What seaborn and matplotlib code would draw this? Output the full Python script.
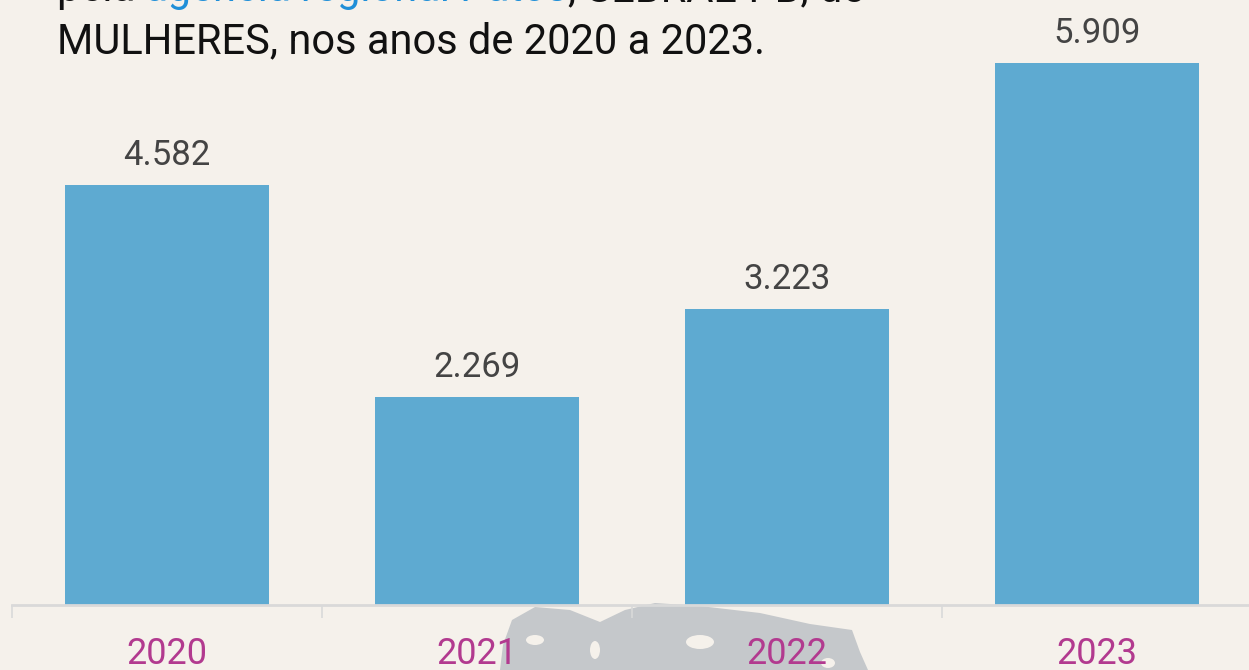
import matplotlib
matplotlib.use("Agg")
import matplotlib.pyplot as plt
import seaborn as sns
import pandas as pd
from matplotlib.patches import Polygon, Ellipse
from matplotlib.ticker import FixedLocator

years = ["2020", "2021", "2022", "2023"]
values = [4582, 2269, 3223, 5909]
value_labels = ["4.582", "2.269", "3.223", "5.909"]
title_line1 = [("pela ", "#111111"), ("agência regional Patos", "#1f8fd8"), (", SEBRAE-PB, de", "#111111")]
title_line2 = "MULHERES, nos anos de 2020 a 2023."

BG = "#f5f1eb"
BAR = "#5eaad1"
GRID = "#d9d9d9"
LABEL = "#444444"
TICK = "#b23a8f"

sns.set_theme(style="white")
FONT = ["Roboto", "DejaVu Sans"]
plt.rcParams["font.family"] = FONT

W, H = 1249, 670
fig = plt.figure(figsize=(W / 100, H / 100), dpi=100, facecolor=BG)

# axes: x from 12px to 1252px, baseline at y=605px
left = 12 / W
width = 1240 / W
bottom = (H - 605) / H
ymax = 6000
px_per_unit = 542 / 5909
height = (ymax * px_per_unit) / H
ax = fig.add_axes([left, bottom, width, height])
ax.set_facecolor("none")

df = pd.DataFrame({"ano": years, "valor": values})
sns.barplot(data=df, x="ano", y="valor", color=BAR, width=0.66, saturation=1,
            linewidth=0, ax=ax, zorder=2)
ax.set_xlim(-0.5, 3.5)
ax.set_ylim(0, ymax)
ax.set_xlabel("")
ax.set_ylabel("")
ax.set_yticks([])
for s in ["top", "right", "left"]:
    ax.spines[s].set_visible(False)
ax.spines["bottom"].set_color(GRID)
ax.spines["bottom"].set_linewidth(2)
ax.spines["bottom"].set_zorder(3)

ax.xaxis.set_minor_locator(FixedLocator([-0.5, 0.5, 1.5, 2.5, 3.5]))
ax.tick_params(axis="x", which="minor", length=9.5, width=1.2, color=GRID, bottom=True)
ax.tick_params(axis="x", which="major", length=0, pad=22, labelsize=26, labelcolor=TICK)

for i, (v, lab) in enumerate(zip(values, value_labels)):
    ax.annotate(lab, (i, v), xytext=(0, 14.5), textcoords="offset points",
                ha="center", va="baseline", fontsize=25, color=LABEL)

# decorative grey map silhouette behind the x axis
pts = [(500, 670), (503, 645), (512, 620), (535, 607), (570, 610), (600, 622),
       (625, 610), (655, 603), (700, 606), (760, 613), (810, 624), (852, 630),
       (860, 652), (868, 670)]
poly = Polygon([(x / W, 1 - y / H) for x, y in pts], closed=True,
               transform=fig.transFigure, facecolor="#c5c8cb", edgecolor="none", zorder=-1)
fig.patches.append(poly)
for (cx, cy, w, h) in [(535, 640, 18, 10), (595, 650, 10, 18), (700, 642, 28, 14), (828, 663, 14, 10)]:
    e = Ellipse((cx / W, 1 - cy / H), w / W, h / H, transform=fig.transFigure,
                facecolor=BG, edgecolor="none", zorder=-0.5)
    fig.patches.append(e)

# title (partially cut at top, as in the source)
fig.text(57 / W, 1 - 53 / H, title_line2, fontsize=30, color="#111111",
         ha="left", va="baseline")
renderer = fig.canvas.get_renderer()
x = 57
for txt, col in title_line1:
    t = fig.text(x / W, 1 - 1 / H, txt, fontsize=30, color=col, ha="left", va="baseline")
    bb = t.get_window_extent(renderer=renderer)
    x += bb.width

fig.savefig("out.png", dpi=100, facecolor=BG)
